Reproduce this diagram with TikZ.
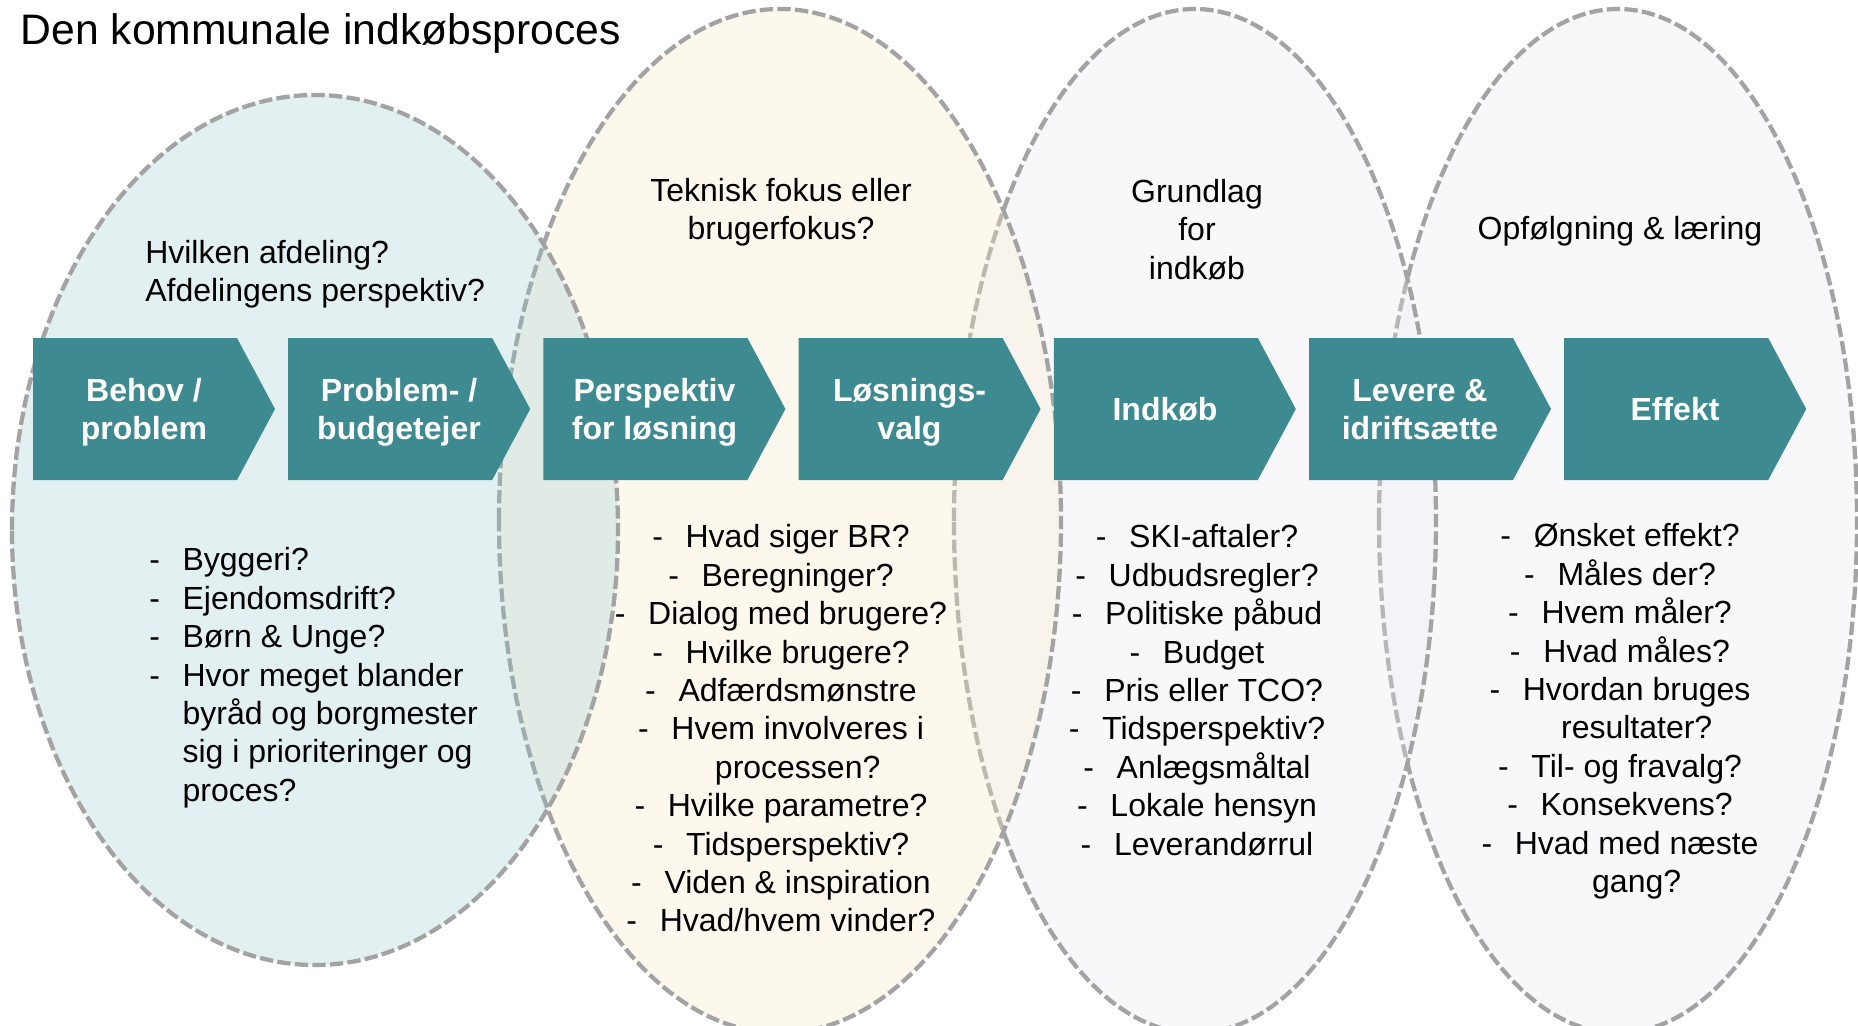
\documentclass[tikz,border=0pt]{standalone}
\usepackage{xcolor}
\usepackage{fontspec}
\setmainfont{Liberation Sans}
\usepackage{tikz}

% list entries: dash with a fixed gap, and the indent of a wrapped line
\newcommand{\lidash}{\makebox[25pt][l]{-}}
\newcommand{\liskip}{\hspace*{25pt}}

\begin{document}
\begin{tikzpicture}[x=0.75pt,y=0.75pt,yscale=-1,xscale=1,
            rim/.style={draw={rgb, 255:red, 163; green, 163; blue, 163 }, line width=3.2pt, dash pattern=on 10pt off 3.2pt},
            stage/.style={fill={rgb, 255:red, 61; green, 139; blue, 145 }},
            stagetext/.style={text=white, inner sep=0pt, align=center, font=\fontsize{24}{28.8}\selectfont\bfseries},
            asktext/.style={inner sep=0pt, font=\fontsize{24}{28.8}\selectfont}]
            \useasboundingbox (0,0) rectangle (1858,1025);
            \fill[white] (0,0) rectangle (1858,1025);

            %Shape: Ellipse [effekt]
            \draw [rim][fill={rgb, 255:red, 232; green, 232; blue, 242 }, fill opacity=0.3] (1379,521) .. controls (1379,238.2) and (1486,9) .. (1618,9) .. controls (1750,9) and (1857,238.2) .. (1857,521) .. controls (1857,803.8) and (1750,1033) .. (1618,1033) .. controls (1486,1033) and (1379,803.8) .. (1379,521) -- cycle ;
            %Shape: Ellipse [indkob]
            \draw [rim][fill={rgb, 255:red, 232; green, 232; blue, 242 }, fill opacity=0.3] (954,521) .. controls (954,238.2) and (1061.9,9) .. (1195,9) .. controls (1328.1,9) and (1436,238.2) .. (1436,521) .. controls (1436,803.8) and (1328.1,1033) .. (1195,1033) .. controls (1061.9,1033) and (954,803.8) .. (954,521) -- cycle ;
            %Shape: Ellipse [losning]
            \draw [rim][fill={rgb, 255:red, 248; green, 235; blue, 202 }, fill opacity=0.3] (499,521) .. controls (499,238.2) and (624.8,9) .. (780,9) .. controls (935.2,9) and (1061,238.2) .. (1061,521) .. controls (1061,803.8) and (935.2,1033) .. (780,1033) .. controls (624.8,1033) and (499,803.8) .. (499,521) -- cycle ;
            %Shape: Ellipse [behov]
            \draw [rim][fill={rgb, 255:red, 147; green, 199; blue, 203 }, fill opacity=0.25] (12,530) .. controls (12,289.75) and (147.65,95) .. (315,95) .. controls (482.35,95) and (618,289.75) .. (618,530) .. controls (618,770.25) and (482.35,965) .. (315,965) .. controls (147.65,965) and (12,770.25) .. (12,530) -- cycle ;

            %Shape: Chevron
            \fill [stage] (33,338) -- (237,338) -- (275,409) -- (237,480) -- (33,480) -- cycle ;
            %Shape: Chevron
            \fill [stage] (288.2,338) -- (492.2,338) -- (530.2,409) -- (492.2,480) -- (288.2,480) -- cycle ;
            %Shape: Chevron
            \fill [stage] (543.4,338) -- (747.4,338) -- (785.4,409) -- (747.4,480) -- (543.4,480) -- cycle ;
            %Shape: Chevron
            \fill [stage] (798.6,338) -- (1002.6,338) -- (1040.6,409) -- (1002.6,480) -- (798.6,480) -- cycle ;
            %Shape: Chevron
            \fill [stage] (1053.8,338) -- (1257.8,338) -- (1295.8,409) -- (1257.8,480) -- (1053.8,480) -- cycle ;
            %Shape: Chevron
            \fill [stage] (1309,338) -- (1513,338) -- (1551,409) -- (1513,480) -- (1309,480) -- cycle ;
            %Shape: Chevron
            \fill [stage] (1564.2,338) -- (1768.2,338) -- (1806.2,409) -- (1768.2,480) -- (1564.2,480) -- cycle ;

            % Text Node
            \draw (144,412.5) node [stagetext] (behov) {Behov /\\problem};
            % Text Node
            \draw (399,412.5) node [stagetext] (ejer) {Problem- /\\budgetejer};
            % Text Node
            \draw (654.5,412.5) node [stagetext] (perspektiv) {Perspektiv\\for løsning};
            % Text Node
            \draw (909.5,412.5) node [stagetext] (valg) {Løsnings-\\valg};
            % Text Node
            \draw (1165,409.5) node [stagetext] (indkob) {Indkøb};
            % Text Node
            \draw (1420,409.5) node [stagetext] (levere) {Levere \&\\idriftsætte};
            % Text Node
            \draw (1675,409.5) node [stagetext] (effekt) {Effekt};

            % Text Node
            \draw (20.5,13) node [anchor=north west][inner sep=0pt] [font=\fontsize{32}{38}\selectfont] (titel) {Den kommunale indkøbsproces};

            % Text Node
            \draw (145,240) node [anchor=north west][asktext] [align=left] (afdeling) {Hvilken afdeling?\\Afdelingens perspektiv?};
            % Text Node
            \draw (781,178) node [anchor=north][asktext] [align=center] (fokus) {Teknisk fokus eller\\brugerfokus?};
            % Text Node
            \draw (1197,179) node [anchor=north][asktext] [align=center] (grundlag) {Grundlag\\for\\indkøb};
            % Text Node
            \draw (1620,216) node [anchor=north][asktext] [align=center] (laering) {Opfølgning \& læring};

            % Text Node
            \draw (149,547.5) node [anchor=north west][asktext] [align=left] (behovliste) {\lidash Byggeri?\\\lidash Ejendomsdrift?\\\lidash Børn \& Unge?\\\lidash Hvor meget blander\\\liskip byråd og borgmester\\\liskip sig i prioriteringer og\\\liskip proces?};
            % Text Node
            \draw (781,524.5) node [anchor=north][asktext] [align=center] (losningliste) {\lidash Hvad siger BR?\\\lidash Beregninger?\\\lidash Dialog med brugere?\\\lidash Hvilke brugere?\\\lidash Adfærdsmønstre\\\lidash Hvem involveres i\\\liskip processen?\\\lidash Hvilke parametre?\\\lidash Tidsperspektiv?\\\lidash Viden \& inspiration\\\lidash Hvad/hvem vinder?};
            % Text Node
            \draw (1197,524.5) node [anchor=north][asktext] [align=center] (indkobliste) {\lidash SKI-aftaler?\\\lidash Udbudsregler?\\\lidash Politiske påbud\\\lidash Budget\\\lidash Pris eller TCO?\\\lidash Tidsperspektiv?\\\lidash Anlægsmåltal\\\lidash Lokale hensyn\\\lidash Leverandørrul};
            % Text Node
            \draw (1620,523.5) node [anchor=north][asktext] [align=center] (effektliste) {\lidash Ønsket effekt?\\\lidash Måles der?\\\lidash Hvem måler?\\\lidash Hvad måles?\\\lidash Hvordan bruges\\\liskip resultater?\\\lidash Til- og fravalg?\\\lidash Konsekvens?\\\lidash Hvad med næste\\\liskip gang?};

\end{tikzpicture}
\end{document}
